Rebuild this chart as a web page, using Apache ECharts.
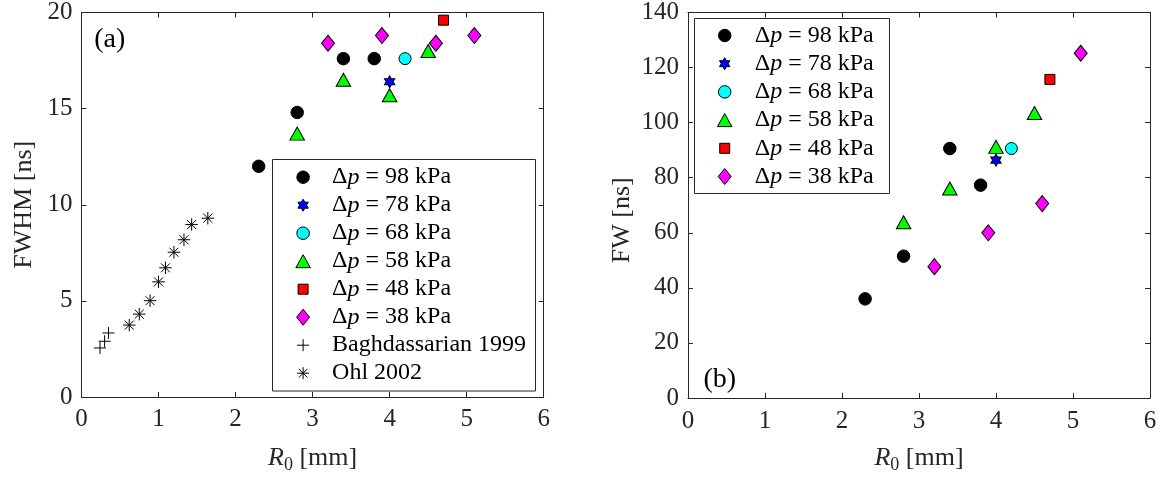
<!DOCTYPE html>
<html><head><meta charset="utf-8">
<script src="https://cdn.jsdelivr.net/npm/echarts@6/dist/echarts.min.js"></script>
<style>html,body{margin:0;padding:0;background:#fff}#c{width:1163px;height:479px}</style>
</head><body><div id="c"></div>
<script>
// ---------------- data ----------------
const R0_98 = [2.3, 2.8, 3.4, 3.8];
const FWHM_98 = [12.0, 14.8, 17.6, 17.6];
const FW_98 = [36.0, 51.5, 90.6, 77.3];
const R0_78 = [4.0];
const FWHM_78 = [16.4];
const FW_78 = [86.4];
const R0_68 = [4.2];
const FWHM_68 = [17.6];
const FW_68 = [90.6];
const R0_58 = [2.8, 3.4, 4.0, 4.5];
const FWHM_58 = [13.7, 16.5, 15.7, 18.0];
const FW_58 = [63.8, 76.1, 91.2, 103.5];
const R0_48 = [4.7];
const FWHM_48 = [19.6];
const FW_48 = [115.7];
const R0_38 = [3.2, 3.9, 4.6, 5.1];
const FWHM_38 = [18.4, 18.8, 18.4, 18.8];
const FW_38 = [47.7, 60.0, 70.6, 125.2];
const R0_BAGH = [0.24, 0.30, 0.35];
const FWHM_BAGH = [2.55, 2.9, 3.33];
const R0_OHL = [0.62, 0.75, 0.89, 1.0, 1.09, 1.2, 1.33, 1.43, 1.64];
const FWHM_OHL = [3.74, 4.31, 5.01, 5.99, 6.72, 7.53, 8.18, 8.97, 9.30];
const NAMES = ['Δp = 98 kPa', 'Δp = 78 kPa', 'Δp = 68 kPa', 'Δp = 58 kPa', 'Δp = 48 kPa', 'Δp = 38 kPa'];
const NAME_BAGH = 'Baghdassarian 1999';
const NAME_OHL = 'Ohl 2002';
const Y_LABEL_A = 'FWHM [ns]';
const Y_LABEL_B = 'FW [ns]';

// ---------------- style ----------------
const FONT = '"Liberation Serif", "Times New Roman", serif';
const AX = '#262626';
function hexagram(R) {
  const p = [];
  for (let k = 0; k < 12; k++) {
    const a = -Math.PI / 2 + k * Math.PI / 6;
    const r = k % 2 ? R / Math.sqrt(3) : R;
    p.push((r * Math.cos(a)).toFixed(3) + ',' + (r * Math.sin(a)).toFixed(3));
  }
  return 'M' + p.join('L') + 'Z';
}
const SHAPES = {
  circle: 'M6.25,0A6.25,6.25,0,1,1,-6.25,0A6.25,6.25,0,1,1,6.25,0Z',
  star: hexagram(6),
  triangle: 'M0,-6.5L7.25,6.5L-7.25,6.5Z',
  square: 'M-5,-5L5,-5L5,5L-5,5Z',
  diamond: 'M0,-8L6.5,0L0,8L-6.5,0Z',
  plus: 'M0,-6L0,6M-6,0L6,0',
  aster: 'M0,-6L0,6M-6,0L6,0M-4.3,-4.3L4.3,4.3M-4.3,4.3L4.3,-4.3'
};
const PAD = 'M-9,-11M9,11';
const icon = k => 'path://' + PAD + SHAPES[k];

const STY = [
  {shape: 'circle', color: '#000000', sym: 'circle', size: 12.5},
  {shape: 'star', color: '#0000ff', sym: 'path://' + hexagram(6), size: [10.4, 12]},
  {shape: 'circle', color: '#00ffff', sym: 'circle', size: 12},
  {shape: 'triangle', color: '#00ff00', sym: 'triangle', size: [14.5, 13]},
  {shape: 'square', color: '#ff0000', sym: 'rect', size: 10},
  {shape: 'diamond', color: '#ff00ff', sym: 'diamond', size: [13, 16]}
];

const pts = (xs, ys) => xs.map((x, i) => [x, ys[i]]);
const A_Y = [FWHM_98, FWHM_78, FWHM_68, FWHM_58, FWHM_48, FWHM_38];
const B_Y = [FW_98, FW_78, FW_68, FW_58, FW_48, FW_38];
const XS = [R0_98, R0_78, R0_68, R0_58, R0_48, R0_38];

const series = [];
for (let i = 0; i < 6; i++) {
  for (const [ax, ys] of [[0, A_Y[i]], [2, B_Y[i]]]) {
    series.push({
      type: 'scatter', name: NAMES[i], xAxisIndex: ax, yAxisIndex: ax,
      symbol: STY[i].sym, symbolSize: STY[i].size,
      itemStyle: {color: STY[i].color, borderColor: '#000', borderWidth: 1, opacity: 1},
      data: pts(XS[i], ys), z: 3
    });
  }
}
series.push({
  type: 'scatter', name: NAME_BAGH, xAxisIndex: 0, yAxisIndex: 0,
  symbol: 'path://' + SHAPES.plus, symbolSize: 12,
  itemStyle: {color: 'rgba(0,0,0,0)', borderColor: '#000', borderWidth: 1, opacity: 1},
  data: pts(R0_BAGH, FWHM_BAGH)
});
series.push({
  type: 'scatter', name: NAME_OHL, xAxisIndex: 0, yAxisIndex: 0,
  symbol: 'path://' + SHAPES.aster, symbolSize: 12.5,
  itemStyle: {color: 'rgba(0,0,0,0)', borderColor: '#000', borderWidth: 1, opacity: 1},
  data: pts(R0_OHL, FWHM_OHL)
});

function legendItems(withRefs) {
  const items = NAMES.map((n, i) => ({
    name: n, icon: icon(STY[i].shape),
    itemStyle: {color: STY[i].color, borderColor: '#000', borderWidth: 1}
  }));
  if (withRefs) {
    items.push({name: NAME_BAGH, icon: icon('plus'), itemStyle: {color: 'rgba(0,0,0,0)', borderColor: '#000', borderWidth: 1}});
    items.push({name: NAME_OHL, icon: icon('aster'), itemStyle: {color: 'rgba(0,0,0,0)', borderColor: '#000', borderWidth: 1}});
  }
  return items;
}
const LF = 24;
const legendRich = {
  n: {fontFamily: FONT, fontSize: LF, lineHeight: 22, color: '#000'},
  i: {fontFamily: FONT, fontSize: LF, lineHeight: 22, color: '#000', fontStyle: 'italic'}
};
function legendFmt(name) {
  if (name.indexOf('Δp') === 0) return '{n|Δ}{i|p}{n|\u2005=\u2005' + name.slice(5) + '}';
  return '{n|' + name + '}';
}
function mkLegend(left, top, gap, padL, withRefs) {
  return {
    orient: 'vertical', left: left, top: top, padding: 0, itemGap: gap,
    itemWidth: 18, itemHeight: 22, selectedMode: false,
    data: legendItems(withRefs), formatter: legendFmt,
    textStyle: {fontFamily: FONT, fontSize: LF, lineHeight: 22, color: '#000', padding: [0, 0, 0, padL], rich: legendRich},
    z: 5
  };
}

const nameRich = {
  n: {fontFamily: FONT, fontSize: 26, lineHeight: 32, color: AX},
  i: {fontFamily: FONT, fontSize: 26, lineHeight: 32, color: AX, fontStyle: 'italic'},
  s: {fontFamily: FONT, fontSize: 18, color: AX, padding: [14, 0, 0, 0]}
};
const xName = '{i|R}{s|0}{n| [mm]}';

function xAx(grid, pos, show, gap, margin) {
  return {
    type: 'value', gridIndex: grid, position: pos, min: 0, max: 6, interval: 1,
    name: show ? xName : '', nameLocation: 'middle', nameGap: gap,
    nameTextStyle: {rich: nameRich, fontFamily: FONT, fontSize: 26, color: AX},
    axisLine: {show: true, onZero: false, lineStyle: {color: AX, width: 1}},
    axisTick: {show: true, inside: true, length: 5, lineStyle: {color: AX, width: 1}},
    axisLabel: {show: show, margin: margin, fontFamily: FONT, fontSize: 25, lineHeight: 25, color: AX},
    splitLine: {show: false}
  };
}
function yAx(grid, pos, show, max, interval, name, pad) {
  return {
    type: 'value', gridIndex: grid, position: pos, min: 0, max: max, interval: interval,
    name: show ? name : '', nameLocation: 'middle', nameGap: 42,
    nameTextStyle: {fontFamily: FONT, fontSize: 26, lineHeight: 30, color: AX, padding: pad},
    axisLine: {show: true, onZero: false, lineStyle: {color: AX, width: 1}},
    axisTick: {show: true, inside: true, length: 5, lineStyle: {color: AX, width: 1}},
    axisLabel: {show: show, margin: 9, fontFamily: FONT, fontSize: 25, color: AX},
    splitLine: {show: false}
  };
}

const option = {
  animation: false,
  backgroundColor: '#fff',
  grid: [
    {left: 81.5, top: 12, width: 462.2, height: 386.7},
    {left: 688, top: 12, width: 462, height: 391.3}
  ],
  xAxis: [xAx(0, 'bottom', true, 45, 10), xAx(0, 'top', false, 0, 0), xAx(1, 'bottom', true, 44, 11), xAx(1, 'top', false, 0, 0)],
  yAxis: [yAx(0, 'left', true, 20, 5, Y_LABEL_A, 0), yAx(0, 'right', false, 20, 5, '', 0),
          yAx(1, 'left', true, 140, 20, Y_LABEL_B, [0, 30, 0, 0]), yAx(1, 'right', false, 140, 20, '', 0)],
  legend: [mkLegend(293.6, 165.2, 4.0, 15, true), mkLegend(715.2, 23.5, 4.2, 16, false)],
  graphic: [
    {type: 'rect', z: 4, shape: {x: 272.5, y: 159.5, width: 263, height: 231.5}, style: {fill: '#fff', stroke: AX, lineWidth: 1}},
    {type: 'rect', z: 4, shape: {x: 694.5, y: 18.5, width: 195, height: 175}, style: {fill: '#fff', stroke: AX, lineWidth: 1}},
    {type: 'text', z: 5, x: 109.7, y: 39.7, style: {text: '(a)', font: '28px ' + FONT, fill: '#000', align: 'center', verticalAlign: 'middle'}},
    {type: 'text', z: 5, x: 719.8, y: 380, style: {text: '(b)', font: '28px ' + FONT, fill: '#000', align: 'center', verticalAlign: 'middle'}}
  ],
  series: series
};
const chart = echarts.init(document.getElementById('c'), null, {renderer: 'canvas'});
chart.setOption(option);
</script></body></html>
